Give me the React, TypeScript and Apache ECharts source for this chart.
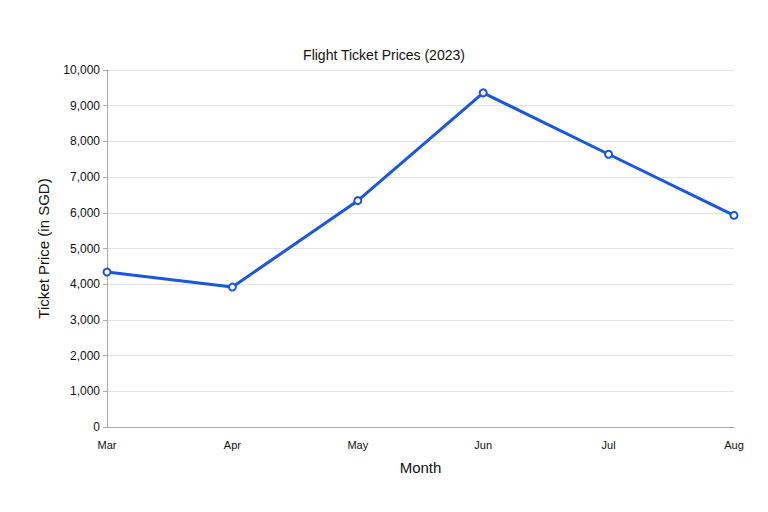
import React, { useEffect, useRef } from "react";
import * as echarts from "echarts";

const months = ["Mar", "Apr", "May", "Jun", "Jul", "Aug"];
const prices = [4340, 3920, 6340, 9360, 7640, 5930];

export default function App() {
  const ref = useRef<HTMLDivElement>(null);
  useEffect(() => {
    if (!ref.current) return;
    const chart = echarts.init(ref.current, null, { renderer: "svg" });
    const font = "'Liberation Sans', Arial, Helvetica, sans-serif";
    chart.setOption({
      animation: false,
      backgroundColor: "#ffffff",
      textStyle: { fontFamily: font },
      title: {
        text: "Flight Ticket Prices (2023)",
        left: "center",
        top: 43,
        textStyle: { fontSize: 14, fontWeight: "normal", color: "#111", fontFamily: font },
      },
      grid: { left: 107, right: 34, top: 70, bottom: 85, containLabel: false },
      xAxis: {
        type: "category",
        data: months,
        boundaryGap: false,
        name: "Month",
        nameLocation: "middle",
        nameGap: 33,
        nameTextStyle: { fontSize: 15, color: "#111", fontFamily: font },
        axisLine: { show: true, lineStyle: { color: "#aaaaaa", width: 1 } },
        axisTick: { show: false },
        axisLabel: { fontSize: 11, color: "#111", margin: 12, fontFamily: font },
        splitLine: { show: false },
      },
      yAxis: {
        type: "value",
        min: 0,
        max: 10000,
        interval: 1000,
        name: "Ticket Price (in SGD)",
        nameLocation: "middle",
        nameGap: 56,
        nameTextStyle: { fontSize: 15, color: "#111", fontFamily: font },
        axisLine: { show: true, lineStyle: { color: "#aaaaaa", width: 1 } },
        axisTick: { show: true, length: 4, lineStyle: { color: "#aaaaaa" } },
        axisLabel: {
          fontSize: 12,
          color: "#111",
          margin: 7,
          fontFamily: font,
          formatter: (v: number) => v.toLocaleString("en-US"),
        },
        splitLine: { show: true, lineStyle: { color: "#e3e3e3", width: 1 } },
      },
      series: [
        {
          type: "line",
          data: prices,
          symbol: "emptyCircle",
          symbolSize: 7,
          lineStyle: { color: "#1a56e0", width: 3 },
          itemStyle: { color: "#1a56e0", borderColor: "#1a56e0", borderWidth: 2.5 },
        },
      ],
    });
    return () => chart.dispose();
  }, []);
  return (
    <div
      ref={ref}
      style={{ position: "fixed", left: 0, top: 0, width: 768, height: 512, background: "#fff" }}
    />
  );
}
